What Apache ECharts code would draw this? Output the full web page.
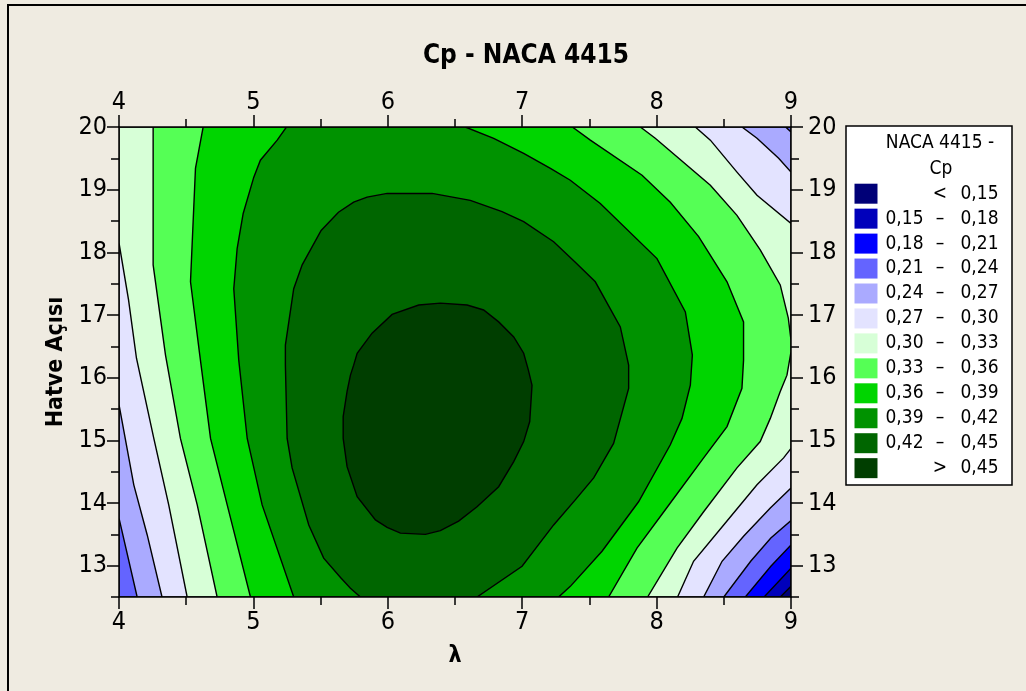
<!DOCTYPE html>
<html>
<head>
<meta charset="utf-8">
<script src="https://cdn.jsdelivr.net/npm/echarts@6/dist/echarts.min.js"></script>
<style>
  html, body { margin: 0; padding: 0; background: #EFEBE1; }
  #chart { width: 1026px; height: 691px; }
</style>
</head>
<body>
<div id="chart"></div>
<script>
// ---- axes ----
const lambdaRange = [4, 9];
const angleRange = [12.5, 20];
const lambdaTicks = [4, 5, 6, 7, 8, 9];
const lambdaHalfTicks = [4.5, 5.5, 6.5, 7.5, 8.5];
const angleTicks = [13, 14, 15, 16, 17, 18, 19, 20];
const angleHalfTicks = [12.5, 13.5, 14.5, 15.5, 16.5, 17.5, 18.5, 19.5];

// ---- contour levels of Cp and band colours (lowest band first) ----
const levels = [0.15, 0.18, 0.21, 0.24, 0.27, 0.30, 0.33, 0.36, 0.39, 0.42, 0.45];
const bandColors = ['#000077', '#0000BB', '#0000FF', '#6464FF', '#AAAAFF', '#E3E3FF',
                    '#D7FFD7', '#55FF55', '#00D500', '#009200', '#006600', '#003E00'];

// ---- contour lines, [λ, Hatve Açısı] ----
const c015 = [[9, 12.67], [8.92, 12.5]];
const c018 = [[9, 12.96], [8.80, 12.5]];
const c021 = [[9, 13.33], [8.85, 12.99], [8.66, 12.5]];
const c024Left = [[4, 13.76], [4.135, 12.5]];
const c024TopRight = [[8.96, 20], [9, 19.92]];
const c024BottomRight = [[9, 13.72], [8.85, 13.44], [8.70, 13.07], [8.50, 12.5]];
const c027Left = [[4, 15.57], [4.11, 14.29], [4.21, 13.49], [4.32, 12.5]];
const c027TopRight = [[8.635, 20], [8.747, 19.82], [8.908, 19.50], [9, 19.28]];
const c027BottomRight = [[9, 14.24], [8.846, 13.92], [8.647, 13.47], [8.487, 13.07], [8.35, 12.5]];
const c030Left = [[4, 18.15], [4.071, 17.24], [4.13, 16.31], [4.259, 15.03], [4.37, 13.97], [4.507, 12.5]];
const c030TopRight = [[8.288, 20], [8.40, 19.79], [8.598, 19.28], [8.747, 18.91], [9, 18.46]];
const c030BottomRight = [[9, 14.87], [8.945, 14.72], [8.747, 14.29], [8.499, 13.65], [8.275, 13.07], [8.156, 12.5]];
const c033Left = [[4.254, 20], [4.254, 17.80], [4.346, 16.36], [4.457, 15.03], [4.582, 13.97], [4.73, 12.5]];
const c033Right = [[7.879, 20], [7.99, 19.82], [8.40, 19.07], [8.598, 18.59], [8.771, 18.04], [8.92, 17.48],
                   [8.98, 16.95], [9, 16.60], [9, 16.41], [8.97, 16.04], [8.92, 15.78], [8.846, 15.35],
                   [8.771, 14.98], [8.598, 14.56], [8.35, 13.86], [8.152, 13.28], [7.933, 12.5]];
const c036Left = [[4.626, 20], [4.569, 19.34], [4.532, 17.53], [4.601, 16.36], [4.681, 15.03], [4.805, 13.97], [4.978, 12.5]];
const c036Right = [[7.373, 20], [7.507, 19.79], [7.892, 19.23], [8.102, 18.80], [8.313, 18.25], [8.524, 17.53],
                   [8.647, 16.89], [8.647, 16.28], [8.635, 15.83], [8.524, 15.22], [8.35, 14.72], [8.102, 14.00],
                   [7.854, 13.28], [7.643, 12.5]];
const c039Left = [[5.246, 20], [5.177, 19.79], [5.052, 19.47], [5.003, 19.20], [4.924, 18.62], [4.879, 18.06],
                  [4.854, 17.42], [4.891, 16.28], [4.954, 15.03], [5.065, 13.97], [5.30, 12.5]];
const c039Right = [[6.577, 20], [6.788, 19.82], [7.011, 19.58], [7.21, 19.34], [7.358, 19.15], [7.581, 18.78],
                   [8.003, 17.90], [8.214, 17.05], [8.266, 16.36], [8.251, 15.88], [8.189, 15.35], [8.102, 14.93],
                   [7.866, 14.02], [7.594, 13.23], [7.358, 12.67], [7.271, 12.5]];
const c042 = [[5.796, 12.5], [5.722, 12.64], [5.648, 12.81], [5.523, 13.12], [5.412, 13.65], [5.288, 14.56],
              [5.251, 15.03], [5.238, 16.20], [5.238, 16.52], [5.30, 17.42], [5.363, 17.80], [5.504, 18.35],
              [5.633, 18.64], [5.746, 18.80], [5.846, 18.88], [5.995, 18.94], [6.33, 18.94], [6.614, 18.83],
              [6.85, 18.65], [7.011, 18.49], [7.234, 18.17], [7.395, 17.84], [7.544, 17.53], [7.73, 16.81],
              [7.792, 16.20], [7.792, 15.83], [7.68, 14.95], [7.532, 14.40], [7.395, 14.05], [7.234, 13.65],
              [6.999, 12.99], [6.664, 12.5]];
const c045 = [[5.746, 16.20], [5.772, 16.39], [5.883, 16.71], [6.032, 17.01], [6.23, 17.16], [6.391, 17.19],
              [6.59, 17.16], [6.713, 17.08], [6.825, 16.89], [6.937, 16.65], [7.011, 16.39], [7.046, 16.12],
              [7.073, 15.88], [7.056, 15.30], [7.011, 14.98], [6.937, 14.66], [6.825, 14.26], [6.664, 13.94],
              [6.527, 13.71], [6.391, 13.56], [6.28, 13.50], [6.094, 13.52], [5.995, 13.61], [5.908, 13.73],
              [5.772, 14.10], [5.697, 14.58], [5.668, 15.03], [5.668, 15.38], [5.697, 15.78], [5.722, 16.04]];

// ---- filled regions: the whole plot, then each area where Cp >= level ----
const TL = [lambdaRange[0], angleRange[1]];
const TR = [lambdaRange[1], angleRange[1]];
const BR = [lambdaRange[1], angleRange[0]];
const BL = [lambdaRange[0], angleRange[0]];
const rev = a => a.slice().reverse();

const regions = [
  [TL, TR, BR, BL],
  [TL, TR, ...c015, BL],
  [TL, TR, ...c018, BL],
  [TL, TR, ...c021, BL],
  [TL, ...c024TopRight, ...c024BottomRight, ...rev(c024Left)],
  [TL, ...c027TopRight, ...c027BottomRight, ...rev(c027Left)],
  [TL, ...c030TopRight, ...c030BottomRight, ...rev(c030Left)],
  [...c033Left, ...rev(c033Right)],
  [...c036Left, ...rev(c036Right)],
  [...c039Left, ...rev(c039Right)],
  c042,
  c045
];

const FONT = '"DejaVu Sans Condensed", "DejaVu Sans", sans-serif';
const fmt = v => v.toFixed(2).replace('.', ',');

// ---- legend rows ----
const legendRows = bandColors.map((c, i) => {
  if (i === 0) return { color: c, low: '', sign: '<', high: fmt(levels[0]) };
  if (i === bandColors.length - 1) return { color: c, low: '', sign: '>', high: fmt(levels[levels.length - 1]) };
  return { color: c, low: fmt(levels[i - 1]), sign: '\u2013', high: fmt(levels[i]) };
});

const LEGEND_FONT = '19px ' + FONT;
const legendChildren = [
  { type: 'rect', shape: { x: 0, y: 0, width: 166, height: 359 },
    style: { fill: '#FFFFFF', stroke: '#000', lineWidth: 1.5 } },
  { type: 'text', x: 94, y: 17, style: { text: 'NACA 4415 -', font: LEGEND_FONT, fill: '#000', align: 'center', verticalAlign: 'middle' } },
  { type: 'text', x: 95, y: 43, style: { text: 'Cp', font: LEGEND_FONT, fill: '#000', align: 'center', verticalAlign: 'middle' } }
];
legendRows.forEach((r, i) => {
  const y = 67.7 + i * 24.95;
  legendChildren.push({ type: 'rect', shape: { x: 8.5, y: y - 10, width: 23, height: 20 }, style: { fill: r.color } });
  if (r.low) legendChildren.push({ type: 'text', x: 77.5, y: y, style: { text: r.low, font: LEGEND_FONT, fill: '#000', align: 'right', verticalAlign: 'middle' } });
  legendChildren.push({ type: 'text', x: 94, y: y, style: { text: r.sign, font: LEGEND_FONT, fill: '#000', align: 'center', verticalAlign: 'middle' } });
  legendChildren.push({ type: 'text', x: 152.5, y: y, style: { text: r.high, font: LEGEND_FONT, fill: '#000', align: 'right', verticalAlign: 'middle' } });
});

const axisLineStyle = { color: '#000', width: 1.5 };
const labelStyle = { color: '#000', fontFamily: FONT, fontSize: 25 };
const nameStyle = { color: '#000', fontFamily: FONT, fontSize: 23, fontWeight: 'bold' };

function xAxisMain(position, withName) {
  const ax = {
    type: 'value', position: position, min: lambdaRange[0], max: lambdaRange[1], z: 10,
    axisLine: { show: true, lineStyle: axisLineStyle },
    axisTick: { show: true, customValues: lambdaTicks, length: 12, lineStyle: axisLineStyle },
    axisLabel: { show: true, customValues: lambdaTicks, margin: position === 'top' ? 12 : 13, ...labelStyle },
    splitLine: { show: false }
  };
  if (withName) {
    ax.name = 'λ';
    ax.nameLocation = 'middle';
    ax.nameGap = 48;
    ax.nameTextStyle = nameStyle;
  }
  return ax;
}
function xAxisMinor(position) {
  return {
    type: 'value', position: position, min: lambdaRange[0], max: lambdaRange[1], z: 10,
    axisLine: { show: false },
    axisTick: { show: true, customValues: lambdaHalfTicks, length: 8, lineStyle: axisLineStyle },
    axisLabel: { show: false },
    splitLine: { show: false }
  };
}
function yAxisMain(position, withName) {
  const ax = {
    type: 'value', position: position, min: angleRange[0], max: angleRange[1], z: 10,
    axisLine: { show: true, lineStyle: axisLineStyle },
    axisTick: { show: true, customValues: angleTicks, length: 12, lineStyle: axisLineStyle },
    axisLabel: { show: true, customValues: angleTicks, margin: position === 'right' ? 17 : 12, ...labelStyle },
    splitLine: { show: false }
  };
  if (withName) {
    ax.name = 'Hatve Açısı';
    ax.nameLocation = 'middle';
    ax.nameGap = 47;
    ax.nameRotate = 90;
    ax.nameTextStyle = nameStyle;
  }
  return ax;
}
function yAxisMinor(position) {
  return {
    type: 'value', position: position, min: angleRange[0], max: angleRange[1], z: 10,
    axisLine: { show: false },
    axisTick: { show: true, customValues: angleHalfTicks, length: 8, lineStyle: axisLineStyle },
    axisLabel: { show: false },
    splitLine: { show: false }
  };
}

const chart = echarts.init(document.getElementById('chart'), null, { renderer: 'canvas' });
chart.setOption({
  backgroundColor: '#EFEBE1',
  animation: false,
  title: {
    text: 'Cp - NACA 4415', left: 521, top: 38, textAlign: 'center',
    textStyle: { color: '#000', fontFamily: FONT, fontSize: 26, fontWeight: 'bold' }
  },
  grid: { left: 119, top: 127, width: 672, height: 470, containLabel: false, outerBoundsMode: 'none' },
  xAxis: [xAxisMain('bottom', true), xAxisMain('top', false), xAxisMinor('bottom'), xAxisMinor('top')],
  yAxis: [yAxisMain('left', true), yAxisMain('right', false), yAxisMinor('left'), yAxisMinor('right')],
  graphic: [
    { type: 'polyline', shape: { points: [[8, 691], [8, 5], [1026, 5]] }, style: { stroke: '#000', lineWidth: 2, fill: null } },
    { type: 'group', x: 846, y: 126, children: legendChildren }
  ],
  series: [{
    type: 'custom',
    xAxisIndex: 0,
    yAxisIndex: 0,
    clip: true,
    data: regions.map((r, i) => [i]),
    renderItem: function (params, api) {
      const poly = regions[params.dataIndex];
      return {
        type: 'polygon',
        shape: { points: poly.map(p => api.coord(p)) },
        style: { fill: bandColors[params.dataIndex], stroke: '#000', lineWidth: 1.4 }
      };
    }
  }]
});
</script>
</body>
</html>
